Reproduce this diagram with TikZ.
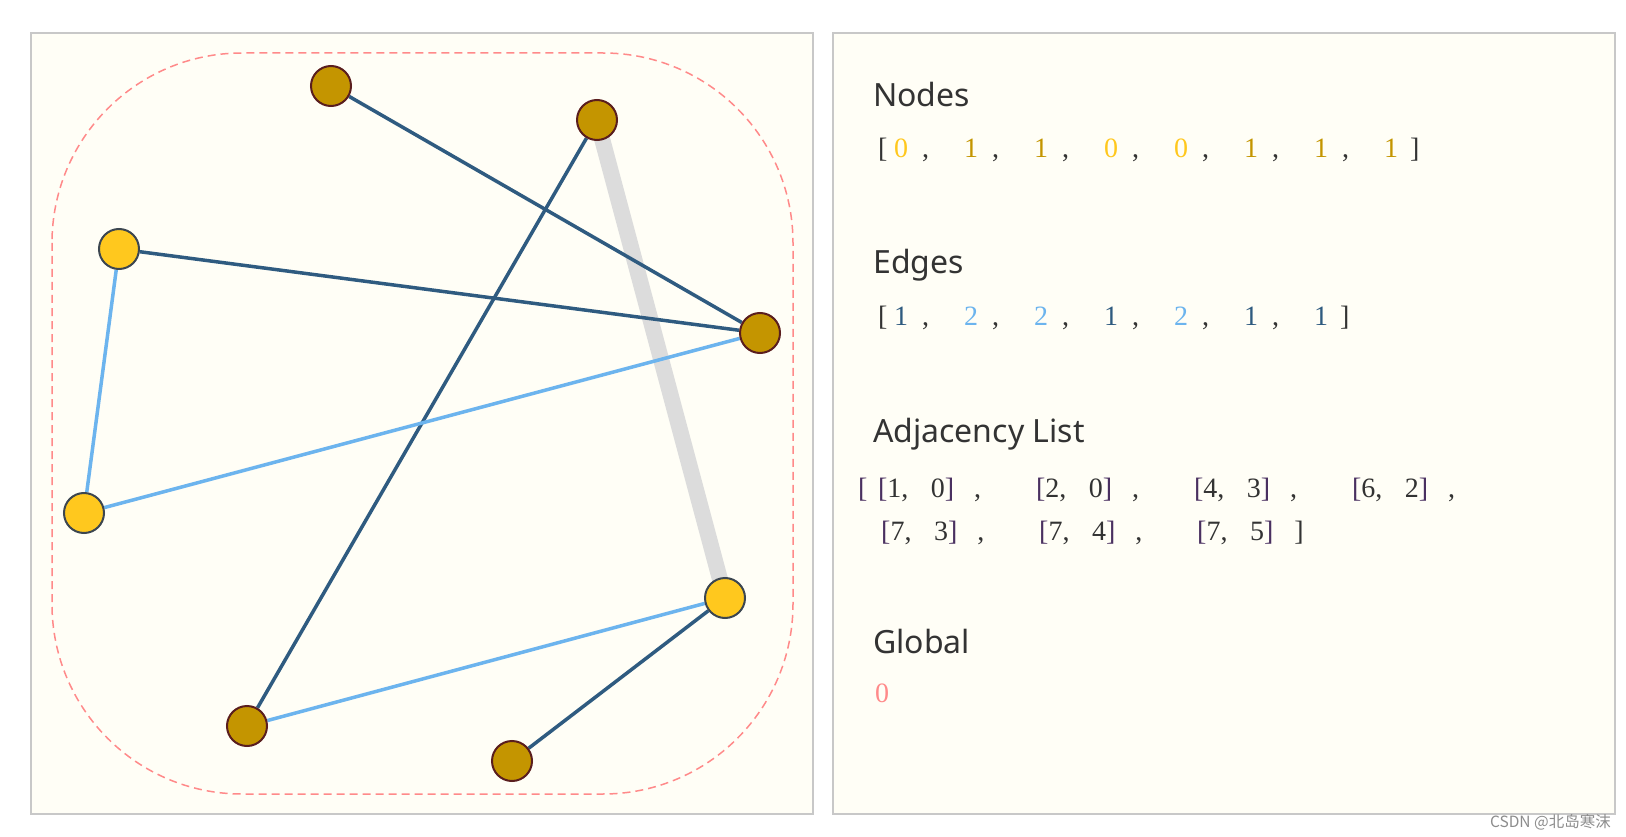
\documentclass[tikz,border=0pt]{standalone}
\usepackage{fontspec}
\setmainfont{Liberation Serif}
\newfontfamily\headfont{Noto Sans}
\newfontfamily\cjkfont{Noto Sans CJK SC}
\pgfdeclarelayer{bg}
\pgfsetlayers{bg,main}
\definecolor{panelbg}{HTML}{FFFEF6}
\definecolor{panelbd}{HTML}{C8C8C8}
\definecolor{gold}{HTML}{C49500}
\definecolor{goldbd}{HTML}{5A1E1E}
\definecolor{yel}{HTML}{FFC81E}
\definecolor{yelbd}{HTML}{3C4650}
\definecolor{dblue}{HTML}{2F5B80}
\definecolor{lblue}{HTML}{6CB4EE}
\definecolor{hlgray}{HTML}{DCDCDC}
\definecolor{pinkd}{HTML}{FF8A8A}
\definecolor{headc}{HTML}{333333}
\definecolor{brk}{HTML}{4A3060}
\definecolor{numc}{HTML}{333333}
\newcommand\itm[2]{\makebox[70pt][l]{\textcolor{#1}{#2}\hspace{14pt},}}
\newcommand\adjg[2]{\makebox[158pt][l]{\textcolor{brk}{[}#1,\hspace{22.5pt}#2\textcolor{brk}{]}\hspace{20pt},}}
\newcommand\adjl[2]{\textcolor{brk}{[}#1,\hspace{22.5pt}#2\textcolor{brk}{]}}
\tikzset{
  panel/.style={fill=panelbg, draw=panelbd, line width=2pt},
  goldnode/.style={circle, minimum size=40pt, inner sep=0pt, fill=gold, draw=goldbd, line width=2pt},
  yelnode/.style={circle, minimum size=40pt, inner sep=0pt, fill=yel, draw=yelbd, line width=2pt},
  darkedge/.style={draw=dblue, line width=3.5pt},
  lightedge/.style={draw=lblue, line width=3.5pt},
  hledge/.style={draw=hlgray, line width=16pt},
  heading/.style={anchor=base west, inner sep=0pt, text=headc, font=\headfont\fontsize{32}{38}\selectfont},
  numtext/.style={anchor=base west, inner sep=0pt, text=numc, font=\fontsize{28}{32}\selectfont},
}
\begin{document}
\begin{tikzpicture}[x=1pt,y=-1pt]
\useasboundingbox (0,0) rectangle (1626,837);
\begin{pgfonlayer}{bg}
\fill[white] (0,0) rectangle (1626,837);
\draw[panel] (31,33) rectangle (813,814);
\draw[panel] (833,33) rectangle (1615,814);
\draw[pinkd, line width=1.5pt, dash pattern=on 8pt off 5pt, rounded corners=190pt] (52,53) rectangle (793,794);
\end{pgfonlayer}
% graph nodes
\node[goldnode] (n0) at (331,86) {};
\node[goldnode] (n1) at (597,120) {};
\node[yelnode]  (n2) at (119,249) {};
\node[goldnode] (n3) at (760,333) {};
\node[yelnode]  (n4) at (84,513) {};
\node[yelnode]  (n5) at (725,598) {};
\node[goldnode] (n6) at (247,726) {};
\node[goldnode] (n7) at (512,761) {};
\begin{pgfonlayer}{bg}
\draw[hledge] (n1.center) -- (n5.center);
\draw[darkedge] (n0) -- (n3);
\draw[darkedge] (n1) -- (n6);
\draw[darkedge] (n2) -- (n3);
\draw[lightedge] (n2) -- (n4);
\draw[lightedge] (n4) -- (n3);
\draw[lightedge] (n5) -- (n6);
\draw[darkedge] (n5) -- (n7);
\end{pgfonlayer}
% text panel
\node[heading] (hnodes) at (873,107) {Nodes};
\node[numtext] (vnodes) at (878,158) {[\hspace{6.5pt}\itm{yel}{0}\itm{gold}{1}\itm{gold}{1}\itm{yel}{0}\itm{yel}{0}\itm{gold}{1}\itm{gold}{1}\textcolor{gold}{1}\hspace{12pt}]};
\node[heading] (hedges) at (873,273) {Edges};
\node[numtext] (vedges) at (878,326) {[\hspace{6.5pt}\itm{dblue}{1}\itm{lblue}{2}\itm{lblue}{2}\itm{dblue}{1}\itm{lblue}{2}\itm{dblue}{1}\textcolor{dblue}{1}\hspace{12pt}]};
\node[heading] (hadj) at (873,442) {Adjacency List};
\node[numtext] (vadj1) at (858,497) {\textcolor{brk}{[}\hspace{10.5pt}\adjg{1}{0}\adjg{2}{0}\adjg{4}{3}\adjg{6}{2}};
\node[numtext] (vadj2) at (881,540) {\adjg{7}{3}\adjg{7}{4}\adjl{7}{5}\hspace{21pt}]};
\node[heading] (hglob) at (873,653) {Global};
\node[numtext, text=pinkd] (vglob) at (875,702) {0};
\node[anchor=base east, inner sep=0pt, text=black!45, font=\cjkfont\fontsize{15.5}{16}\selectfont] (wm) at (1611,827) {CSDN @北岛寒沫};
\end{tikzpicture}
\end{document}
